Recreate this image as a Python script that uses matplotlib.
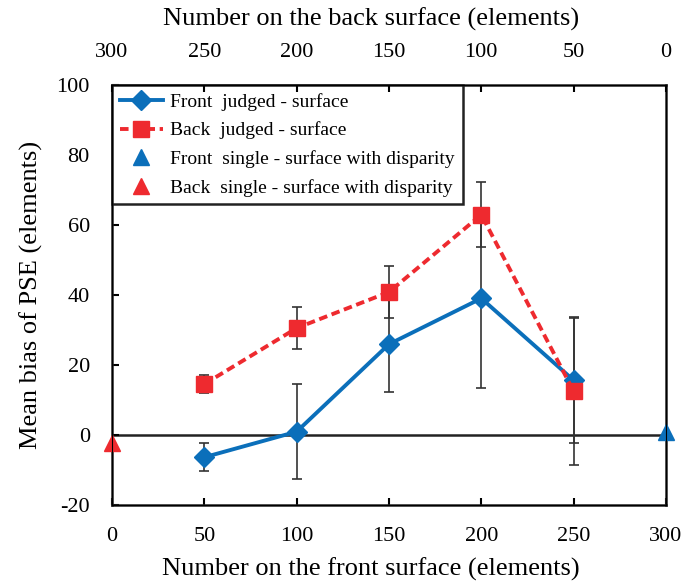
import matplotlib.pyplot as plt

plt.rcParams['font.family'] = ['Liberation Serif', 'DejaVu Serif']
plt.rcParams['axes.unicode_minus'] = False

x_front = [50, 100, 150, 200, 250]
front_judged = [-6.3, 1.0, 26.0, 39.1, 15.7]
front_err = [4.0, 13.5, 13.7, 25.7, 18.0]

x_back = [50, 100, 150, 200, 250]
back_judged = [14.6, 30.6, 40.9, 63.0, 12.6]
back_err = [2.5, 6.0, 7.5, 9.3, 21.0]

front_single_x = [300]
front_single_y = [1.0]
back_single_x = [0]
back_single_y = [-2.3]

blue = '#0b6fba'
red = '#ee2a2f'

fig = plt.figure(figsize=(6.83, 5.84), dpi=100)
ax = fig.add_axes([0.164, 0.135, 0.811, 0.719])

ax.axhline(0, color='#222222', lw=1.8, zorder=1)

ax.errorbar(x_front, front_judged, yerr=front_err, fmt='none', ecolor='#333333',
            elinewidth=1.2, capsize=3.5, capthick=1.2, zorder=2)
ax.errorbar(x_back, back_judged, yerr=back_err, fmt='none', ecolor='#333333',
            elinewidth=1.2, capsize=3.5, capthick=1.2, zorder=2)

ax.plot(x_front, front_judged, color=blue, lw=2.8, marker='D', ms=10,
        label='Front  judged - surface', zorder=3)
ax.plot(x_back, back_judged, color=red, lw=2.8, ls=(0, (2.2, 1.2)), marker='s', ms=11,
        label='Back  judged - surface', zorder=4)
ax.plot(front_single_x, front_single_y, ls='none', marker='^', ms=11, color=blue,
        label='Front  single - surface with disparity', zorder=5, clip_on=False)
ax.plot(back_single_x, back_single_y, ls='none', marker='^', ms=11, color=red,
        label='Back  single - surface with disparity', zorder=5, clip_on=False)

ax.set_xlim(0, 300)
ax.set_ylim(-20, 100)
ax.set_xticks(range(0, 301, 50))
ax.set_yticks(range(-20, 101, 20))
ax.tick_params(axis='x', direction='in', length=5, width=1.5, labelsize=16, pad=16)
ax.tick_params(axis='y', direction='in', length=5, width=1.5, labelsize=16, pad=16)
ax.tick_params(right=False)
for s in ax.spines.values():
    s.set_linewidth(1.8)
    s.set_color('#222222')

ax.set_xlabel('Number on the front surface (elements)', fontsize=19, labelpad=8, x=0.468)
ax.set_ylabel('Mean bias of PSE (elements)', fontsize=19, labelpad=10)

top = ax.twiny()
top.set_xlim(300, 0)
top.set_xticks(range(0, 301, 50))
top.tick_params(axis='x', direction='in', length=5, width=1.5, labelsize=16, pad=17)
top.set_xlabel('Number on the back surface (elements)', fontsize=19, labelpad=12, x=0.468)

leg = ax.legend(loc='upper left', bbox_to_anchor=(0.0, 1.0), fontsize=14, frameon=True,
                fancybox=False, edgecolor='#222222', framealpha=1, borderaxespad=0,
                handlelength=2.2, handletextpad=0.4, labelspacing=0.55, borderpad=0.4)
leg.get_frame().set_linewidth(1.8)

fig.savefig('out.png', dpi=100)
